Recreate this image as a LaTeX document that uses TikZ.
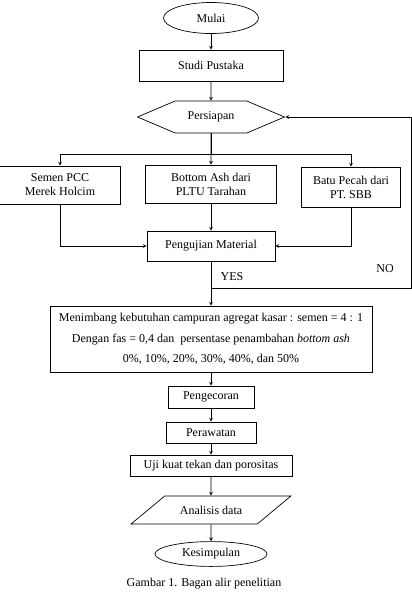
\documentclass[tikz,border=0pt]{standalone}
\usepackage{fontspec}
\setmainfont{Liberation Serif}
\usetikzlibrary{shapes.geometric, shapes.symbols, arrows}
\tikzstyle{process} = [rectangle, minimum height=2em, text centered, draw=black, line width=0.7pt, font=\fontsize{12}{14}\selectfont]
\tikzstyle{startend} = [ellipse, text centered, draw=black, line width=0.7pt, font=\fontsize{12}{14}\selectfont]
\tikzstyle{prep} = [signal, signal to=west and east, signal pointer angle=46, text centered, draw=black, line width=0.7pt, font=\fontsize{12}{14}\selectfont]
\tikzstyle{io} = [trapezium, trapezium left angle=31, trapezium right angle=149, trapezium stretches=true, text centered, draw=black, line width=0.7pt, font=\fontsize{12}{14}\selectfont]
\tikzstyle{label} = [font=\fontsize{12}{14}\selectfont]
\tikzstyle{arrow} = [line width=0.7pt,->,>=stealth]

\begin{document}
\begin{tikzpicture}[node distance=40pt, x=1pt, y=1pt]
\useasboundingbox (0,0) rectangle (412,-606);

% Start
\node (M) [startend, minimum width=95pt, minimum height=31pt] at (211,-18) {Mulai};
\node (SP) [process, below of=M, yshift=-7.5pt, minimum width=144pt, minimum height=31pt] {Studi Pustaka};
\node (P) [prep, below of=SP, yshift=-11.5pt, minimum width=147pt, minimum height=32pt] {Persiapan};

% Materials
\node (B) [process, below of=P, yshift=-27pt, minimum width=131pt, minimum height=38pt, align=center] {Bottom Ash dari\\PLTU Tarahan};
\node (A) [process, left of=B, xshift=-111pt, yshift=-1pt, minimum width=121pt, minimum height=38pt, align=center] {Semen PCC\\Merek Holcim};
\node (C) [process, right of=B, xshift=100pt, yshift=-3pt, minimum width=99pt, minimum height=40pt, align=center] {Batu Pecah dari\\PT. SBB};
\node (T) [process, below of=B, yshift=-22pt, minimum width=128pt, minimum height=30pt] {Pengujian Material};

% Mix design and testing
\node (W) [process, below of=T, yshift=-53pt, minimum width=322pt, minimum height=66pt, align=center, font=\fontsize{12}{20.5}\selectfont] {Menimbang kebutuhan campuran agregat kasar : semen = 4 : 1\\Dengan fas = 0,4 dan \ persentase penambahan \textit{bottom ash}\\0\%, 10\%, 20\%, 30\%, 40\%, dan 50\%};
\node (G) [process, below of=W, yshift=-18pt, minimum width=86pt, minimum height=22pt] {Pengecoran};
\node (R) [process, below of=G, yshift=4.5pt, minimum width=90pt, minimum height=21pt] {Perawatan};
\node (U) [process, below of=R, yshift=7pt, minimum width=162pt, minimum height=21pt] {Uji kuat tekan dan porositas};
\node (D) [io, below of=U, yshift=-4.5pt, minimum width=160pt, minimum height=28pt] {Analisis data};
\node (K) [startend, below of=D, yshift=-4pt, minimum width=112pt, minimum height=24pt] {Kesimpulan};
\node (cap) [label, below of=K, yshift=10pt, xshift=-7pt] {Gambar 1. Bagan alir penelitian};

% Decision labels
\node (yes) [label, below of=T, yshift=9pt, xshift=21pt] {YES};
\node (no) [label, right of=T, xshift=134pt, yshift=-23pt] {NO};
\coordinate (back) at (411,-288);

% Connecting arrows
\draw [arrow] (M) -- (SP);
\draw [arrow] (SP) -- (P);
\draw [arrow] (P) -- (B);
\draw [arrow] (P.south) -- ++(0,-21) -| (A.north);
\draw [arrow] (P.south) -- ++(0,-21) -| (C.north);
\draw [arrow] (A.south) |- (T.west);
\draw [arrow] (C.south) |- (T.east);
\draw [arrow] (B) -- (T);
\draw [arrow] (T) -- (W);
\draw [arrow] (T.south) |- (back) |- (P.east);
\draw [arrow] (W) -- (G);
\draw [arrow] (G) -- (R);
\draw [arrow] (R) -- (U);
\draw [arrow] (U) -- (D);
\draw [arrow] (D) -- (K);

\end{tikzpicture}
\end{document}
